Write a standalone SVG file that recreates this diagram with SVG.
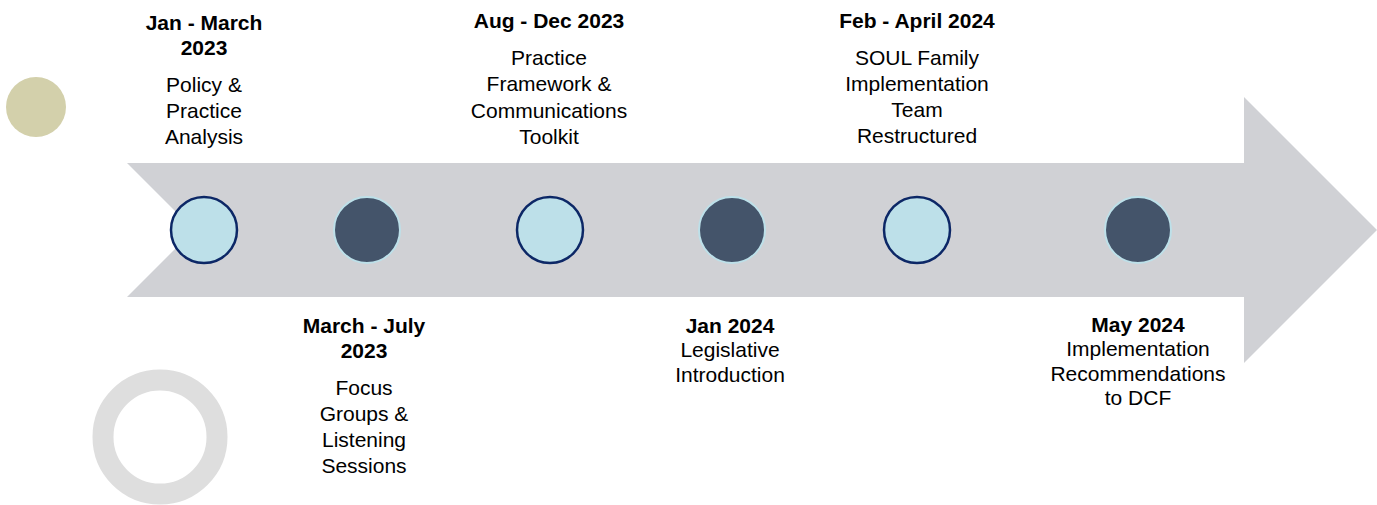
<svg xmlns="http://www.w3.org/2000/svg" width="1377" height="505" viewBox="0 0 1377 505">
<style>
text{font-family:"Liberation Sans",Arial,sans-serif;font-size:21px;fill:#000;text-anchor:middle}
.b{font-weight:bold}
.lt{fill:#bde0e9;stroke:#0c2766;stroke-width:2.5}
.dk{fill:#44546a;stroke:#bde0e9;stroke-width:2}
</style>
<rect width="1377" height="505" fill="#fff"/>
<g id="decor">
<circle cx="36" cy="107" r="30" fill="#d3d0ab"/>
<circle cx="160" cy="437" r="57" fill="none" stroke="#dedede" stroke-width="21"/>
</g>
<g id="connectors">
<polygon id="arrow" points="127,163 1244,163 1244,97 1377,230 1244,363 1244,297 127,297 194,230" fill="#d0d1d5"/>
</g>
<g id="node1">
<circle class="lt" cx="204" cy="230" r="33"/>
<text class="b" x="204" y="30">Jan - March</text>
<text class="b" x="204" y="55">2023</text>
<text x="204" y="92">Policy &amp;</text>
<text x="204" y="118">Practice</text>
<text x="204" y="144">Analysis</text>
</g>
<g id="node2">
<circle class="dk" cx="367" cy="230" r="33"/>
<text class="b" x="364" y="333">March - July</text>
<text class="b" x="364" y="358">2023</text>
<text x="364" y="395">Focus</text>
<text x="364" y="421">Groups &amp;</text>
<text x="364" y="447">Listening</text>
<text x="364" y="473">Sessions</text>
</g>
<g id="node3">
<circle class="lt" cx="550" cy="230" r="33"/>
<text class="b" x="549" y="28">Aug - Dec 2023</text>
<text x="549" y="65">Practice</text>
<text x="549" y="91">Framework &amp;</text>
<text x="549" y="118">Communications</text>
<text x="549" y="144">Toolkit</text>
</g>
<g id="node4">
<circle class="dk" cx="732" cy="230" r="33"/>
<text class="b" x="730" y="333">Jan 2024</text>
<text x="730" y="357">Legislative</text>
<text x="730" y="382">Introduction</text>
</g>
<g id="node5">
<circle class="lt" cx="917" cy="230" r="33"/>
<text class="b" x="917" y="28">Feb - April 2024</text>
<text x="917" y="65">SOUL Family</text>
<text x="917" y="91">Implementation</text>
<text x="917" y="117">Team</text>
<text x="917" y="143">Restructured</text>
</g>
<g id="node6">
<circle class="dk" cx="1138" cy="230" r="33"/>
<text class="b" x="1138" y="332">May 2024</text>
<text x="1138" y="356">Implementation</text>
<text x="1138" y="381">Recommendations</text>
<text x="1138" y="405">to DCF</text>
</g>
</svg>
